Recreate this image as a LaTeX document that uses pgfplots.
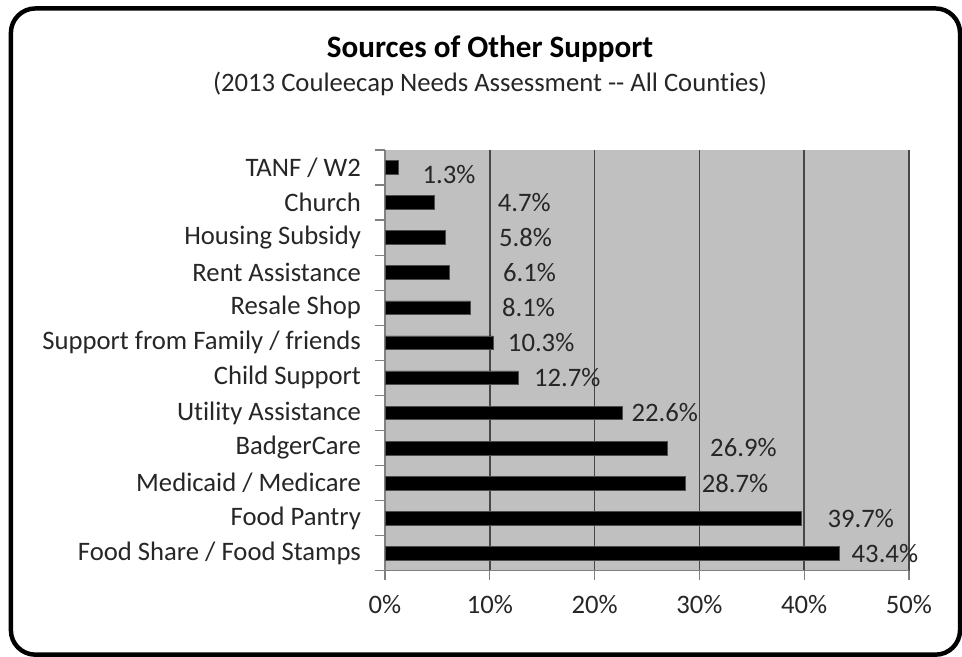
\documentclass[border=0pt]{standalone}
\usepackage{fontspec}
\setmainfont{Carlito}[Ligatures=NoCommon]
\usepackage{pgfplots}
\usepackage{pgfplotstable}
\pgfplotsset{compat=1.18}
\definecolor{plotbg}{HTML}{C0C0C0}
\definecolor{txt}{HTML}{262626}

% share of respondents, bottom (0) to top (11)
\pgfplotstableread{
y v
0 43.4
1 39.7
2 28.7
3 26.9
4 22.6
5 12.7
6 10.3
7 8.1
8 6.1
9 5.8
10 4.7
11 1.3
}\bars

% where Excel put the data labels
\pgfplotstableread{
x y v
47.7 0 43.4
45.4 1 39.7
33.4 2 28.7
34.2 3 26.9
26.7 4 22.6
17.4 5 12.7
14.9 6 10.3
13.7 7 8.1
13.8 8 6.1
13.4 9 5.8
13.3 10 4.7
6.1 10.8 1.3
}\labs

\begin{document}
\begin{tikzpicture}[x=1pt,y=1pt]
\useasboundingbox (0,0) rectangle (432.9,295.2);
\draw[line width=2pt, rounded corners=11pt] (4.9,0.6) rectangle (432,291.4);
\node[font=\fontsize{14}{17}\selectfont\bfseries, anchor=base, text=black] at (220.5,269.2) {Sources of Other Support};
\node[font=\fontsize{12}{14}\selectfont, anchor=base, text=txt] at (220.5,254.2) {(2013 Couleecap Needs Assessment -{}- All Counties)};
\begin{axis}[
    at={(173.25pt,38.4pt)}, anchor=south west,
    scale only axis, width=235.8pt, height=189.3pt,
    xmin=0, xmax=50, ymin=-0.5, ymax=11.5,
    clip=false,
    axis background/.style={fill=plotbg},
    axis x line*=bottom, axis y line*=left,
    axis line style={gray, line width=0.6pt},
    tick align=outside, major tick length=4.3pt,
    tick style={gray, line width=0.6pt},
    xtick={0,10,...,50},
    xticklabels={0\%,10\%,20\%,30\%,40\%,50\%},
    xticklabel style={yshift=-3.4pt},
    ytick={-0.5,0.5,...,11.5},
    y tick label as interval,
    yticklabels={Food Share / Food Stamps, Food Pantry, Medicaid / Medicare, BadgerCare, Utility Assistance, Child Support, Support from Family / friends, Resale Shop, Rent Assistance, Housing Subsidy, Church, TANF / W2},
    yticklabel style={xshift=-3pt},
    ticklabel style={font=\fontsize{12}{14}\selectfont, text=txt},
    xmajorgrids, grid style={black!72, line width=0.75pt},
    every node near coord/.style={anchor=center, font=\fontsize{12}{14}\selectfont, text=txt},
]
\addplot[xbar, bar width=6.2pt, fill=black, draw=gray!60!black, line width=0.3pt] table[x=v, y=y] {\bars};
\addplot[draw=none, mark=none, point meta=explicit,
    nodes near coords={\pgfmathprintnumber[fixed,fixed zerofill,precision=1,assume math mode=true]{\pgfplotspointmeta}\%}]
    table[x=x, y=y, meta=v] {\labs};
\end{axis}
\end{tikzpicture}
\end{document}
